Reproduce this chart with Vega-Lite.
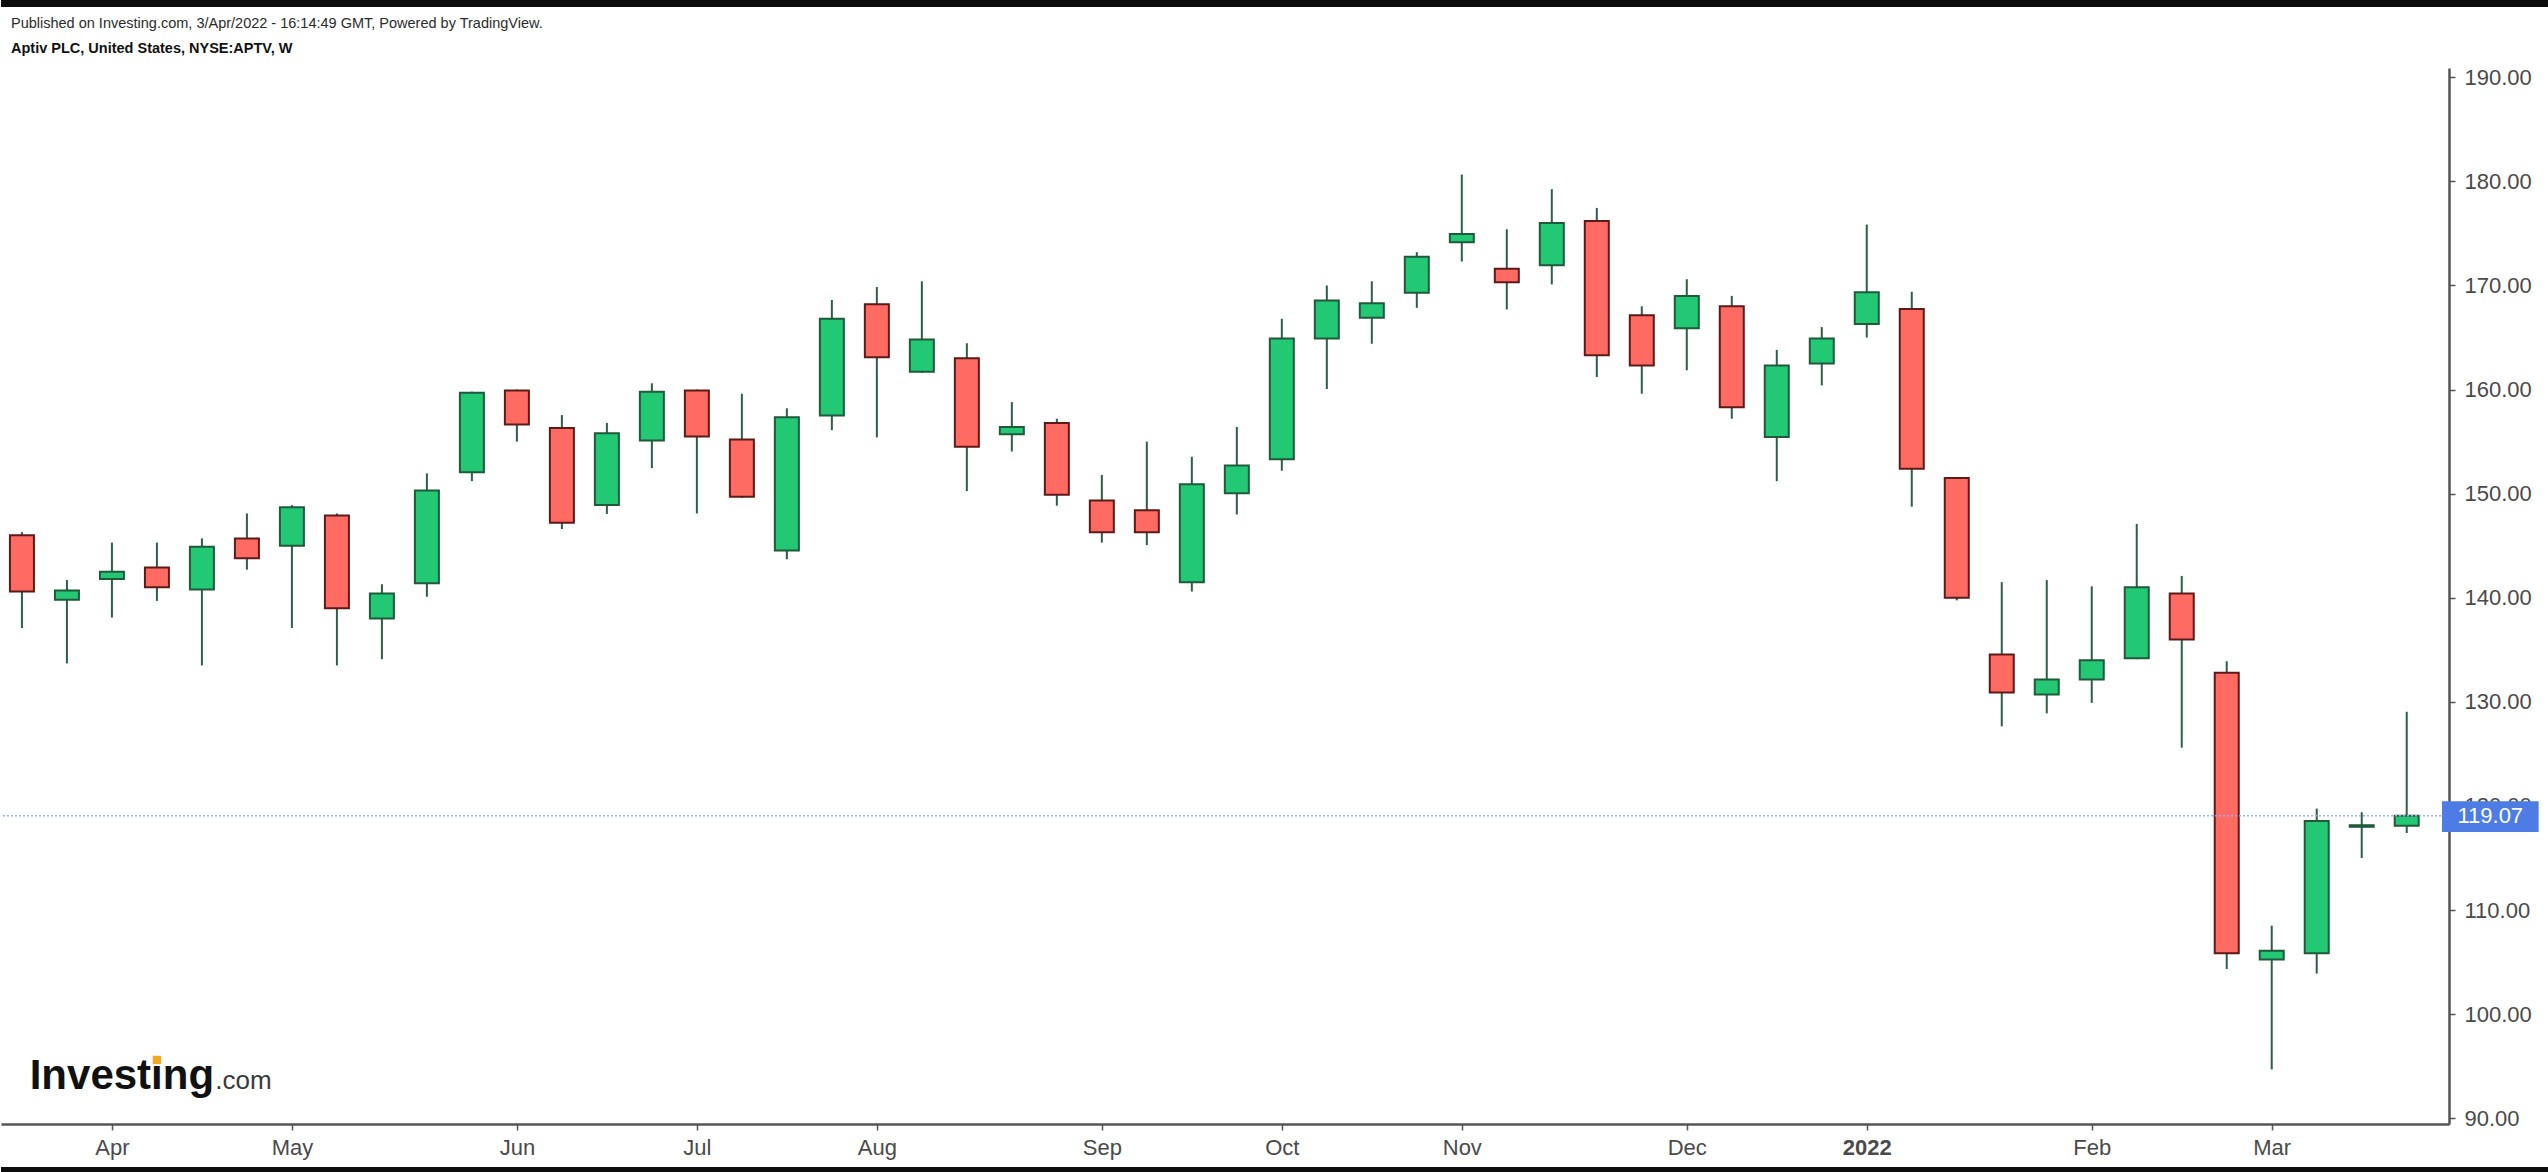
{
  "$schema": "https://vega.github.io/schema/vega-lite/v6.json",
  "background": "white",
  "padding": 0,
  "spacing": 9,
  "config": {"view": {"stroke": null}, "font": "Liberation Sans"},
  "vconcat": [
    {
      "width": 2548, "height": 7,
      "view": {"fill": "#0d0d0d", "stroke": null},
      "data": {"values": [{}]},
      "mark": {"type": "rect", "opacity": 0},
      "encoding": {}
    },
    {
      "width": 2448, "height": 1056,
      "title": {
        "text": "Published on Investing.com, 3/Apr/2022 - 16:14:49 GMT, Powered by TradingView.",
        "subtitle": "Aptiv PLC, United States, NYSE:APTV, W",
        "anchor": "start", "frame": "group", "dx": 10, "offset": 10,
        "font": "Liberation Sans", "fontSize": 14.5, "fontWeight": "normal", "color": "#2b2b2b",
        "subtitleFont": "Liberation Sans", "subtitleFontSize": 14.5, "subtitleFontWeight": "bold",
        "subtitleColor": "#111111", "subtitlePadding": 10
      },
      "data": {"values": [
        {"date": "2021-03-22", "open": 146.0, "high": 146.3, "low": 137.1, "close": 140.6},
        {"date": "2021-03-29", "open": 139.8, "high": 141.7, "low": 133.7, "close": 140.7},
        {"date": "2021-04-05", "open": 141.8, "high": 145.3, "low": 138.1, "close": 142.5},
        {"date": "2021-04-12", "open": 142.9, "high": 145.3, "low": 139.7, "close": 141.0},
        {"date": "2021-04-19", "open": 140.8, "high": 145.7, "low": 133.5, "close": 144.9},
        {"date": "2021-04-26", "open": 145.7, "high": 148.1, "low": 142.7, "close": 143.8},
        {"date": "2021-05-03", "open": 145.0, "high": 148.9, "low": 137.1, "close": 148.7},
        {"date": "2021-05-10", "open": 147.9, "high": 148.1, "low": 133.5, "close": 139.0},
        {"date": "2021-05-17", "open": 138.0, "high": 141.3, "low": 134.1, "close": 140.4},
        {"date": "2021-05-24", "open": 141.4, "high": 151.95, "low": 140.1, "close": 150.3},
        {"date": "2021-05-31", "open": 152.05, "high": 159.8, "low": 151.2, "close": 159.7},
        {"date": "2021-06-07", "open": 159.9, "high": 160.0, "low": 155.0, "close": 156.65},
        {"date": "2021-06-14", "open": 156.3, "high": 157.55, "low": 146.6, "close": 147.2},
        {"date": "2021-06-21", "open": 148.9, "high": 156.8, "low": 148.05, "close": 155.8},
        {"date": "2021-06-28", "open": 155.1, "high": 160.6, "low": 152.45, "close": 159.8},
        {"date": "2021-07-05", "open": 159.9, "high": 160.0, "low": 148.1, "close": 155.5},
        {"date": "2021-07-12", "open": 155.2, "high": 159.6, "low": 149.6, "close": 149.7},
        {"date": "2021-07-19", "open": 144.55, "high": 158.2, "low": 143.7, "close": 157.35},
        {"date": "2021-07-26", "open": 157.5, "high": 168.6, "low": 156.1, "close": 166.8},
        {"date": "2021-08-02", "open": 168.2, "high": 169.85, "low": 155.4, "close": 163.1},
        {"date": "2021-08-09", "open": 161.7, "high": 170.4, "low": 161.6, "close": 164.8},
        {"date": "2021-08-16", "open": 163.0, "high": 164.45, "low": 150.25, "close": 154.5},
        {"date": "2021-08-23", "open": 155.7, "high": 158.8, "low": 154.05, "close": 156.4},
        {"date": "2021-08-30", "open": 156.8, "high": 157.2, "low": 148.85, "close": 149.9},
        {"date": "2021-09-06", "open": 149.35, "high": 151.8, "low": 145.3, "close": 146.3},
        {"date": "2021-09-13", "open": 148.4, "high": 155.0, "low": 145.05, "close": 146.3},
        {"date": "2021-09-20", "open": 141.5, "high": 153.55, "low": 140.6, "close": 150.9},
        {"date": "2021-09-27", "open": 150.05, "high": 156.4, "low": 148.0, "close": 152.7},
        {"date": "2021-10-04", "open": 153.3, "high": 166.8, "low": 152.2, "close": 164.9},
        {"date": "2021-10-11", "open": 164.9, "high": 170.0, "low": 160.05, "close": 168.55},
        {"date": "2021-10-18", "open": 166.9, "high": 170.4, "low": 164.4, "close": 168.3},
        {"date": "2021-10-25", "open": 169.3, "high": 173.2, "low": 167.85, "close": 172.75},
        {"date": "2021-11-01", "open": 174.15, "high": 180.65, "low": 172.3, "close": 174.95},
        {"date": "2021-11-08", "open": 171.6, "high": 175.4, "low": 167.7, "close": 170.3},
        {"date": "2021-11-15", "open": 171.95, "high": 179.25, "low": 170.1, "close": 176.0},
        {"date": "2021-11-22", "open": 176.2, "high": 177.45, "low": 161.2, "close": 163.3},
        {"date": "2021-11-29", "open": 167.15, "high": 168.0, "low": 159.6, "close": 162.3},
        {"date": "2021-12-06", "open": 165.9, "high": 170.6, "low": 161.85, "close": 169.0},
        {"date": "2021-12-13", "open": 168.0, "high": 169.0, "low": 157.2, "close": 158.3},
        {"date": "2021-12-20", "open": 155.45, "high": 163.8, "low": 151.2, "close": 162.3},
        {"date": "2021-12-27", "open": 162.5, "high": 166.0, "low": 160.4, "close": 164.9},
        {"date": "2022-01-03", "open": 166.3, "high": 175.85, "low": 165.0, "close": 169.35},
        {"date": "2022-01-10", "open": 167.75, "high": 169.4, "low": 148.75, "close": 152.4},
        {"date": "2022-01-17", "open": 151.5, "high": 151.6, "low": 139.75, "close": 140.0},
        {"date": "2022-01-24", "open": 134.55, "high": 141.5, "low": 127.65, "close": 130.9},
        {"date": "2022-01-31", "open": 130.7, "high": 141.7, "low": 128.9, "close": 132.15},
        {"date": "2022-02-07", "open": 132.15, "high": 141.1, "low": 129.9, "close": 134.0},
        {"date": "2022-02-14", "open": 134.2, "high": 147.1, "low": 134.1, "close": 141.0},
        {"date": "2022-02-21", "open": 140.4, "high": 142.1, "low": 125.6, "close": 136.0},
        {"date": "2022-02-28", "open": 132.8, "high": 133.9, "low": 104.35, "close": 105.85},
        {"date": "2022-03-07", "open": 105.25, "high": 108.5, "low": 94.7, "close": 106.1},
        {"date": "2022-03-14", "open": 105.85, "high": 119.75, "low": 103.9, "close": 118.55},
        {"date": "2022-03-21", "open": 118.0, "high": 119.4, "low": 115.0, "close": 118.15},
        {"date": "2022-03-28", "open": 118.1, "high": 129.05, "low": 117.4, "close": 119.07}
      ]},
      "layer": [
        {
          "mark": {"type": "rule", "stroke": "#2d5f47", "strokeWidth": 2},
          "encoding": {
            "x": {
              "field": "date", "type": "temporal", "title": null,
              "scale": {"type": "utc", "domain": [
                {"year": 2021, "month": 3, "date": 19, "hours": 12, "minutes": 30, "utc": true},
                {"year": 2022, "month": 4, "date": 2, "hours": 19, "minutes": 12, "utc": true}
              ]},
              "axis": {
                "orient": "bottom", "grid": false,
                "values": [
                  {"year": 2021, "month": 4, "date": 5, "utc": true},
                  {"year": 2021, "month": 5, "date": 3, "utc": true},
                  {"year": 2021, "month": 6, "date": 7, "utc": true},
                  {"year": 2021, "month": 7, "date": 5, "utc": true},
                  {"year": 2021, "month": 8, "date": 2, "utc": true},
                  {"year": 2021, "month": 9, "date": 6, "utc": true},
                  {"year": 2021, "month": 10, "date": 4, "utc": true},
                  {"year": 2021, "month": 11, "date": 1, "utc": true},
                  {"year": 2021, "month": 12, "date": 6, "utc": true},
                  {"year": 2022, "month": 1, "date": 3, "utc": true},
                  {"year": 2022, "month": 2, "date": 7, "utc": true},
                  {"year": 2022, "month": 3, "date": 7, "utc": true}
                ],
                "labelExpr": "utcmonth(datum.value) == 0 ? utcFormat(datum.value, '%Y') : utcFormat(datum.value, '%b')",
                "labelFontWeight": {"condition": {"test": "utcmonth(datum.value) == 0", "value": "bold"}, "value": "normal"},
                "labelFont": "Liberation Sans", "labelFontSize": 22, "labelColor": "#4a4a4a",
                "labelPadding": 7, "tickSize": 6, "tickColor": "#555555", "tickWidth": 1.5,
                "domainColor": "#555555", "domainWidth": 2.5, "labelFlush": false, "labelOverlap": false
              }
            },
            "y": {
              "field": "low", "type": "quantitative", "title": null,
              "scale": {"domain": [89.45, 190.89], "nice": false, "zero": false},
              "axis": {
                "orient": "right", "grid": false,
                "values": [90, 100, 110, 120, 130, 140, 150, 160, 170, 180, 190],
                "format": ".2f",
                "labelFont": "Liberation Sans", "labelFontSize": 22, "labelColor": "#4a4a4a",
                "labelPadding": 9, "tickSize": 6, "tickColor": "#555555", "tickWidth": 1.5,
                "domainColor": "#555555", "domainWidth": 2.5, "labelFlush": false, "labelOverlap": false
              }
            },
            "y2": {"field": "high"}
          }
        },
        {
          "mark": {"type": "bar", "width": 24, "strokeWidth": 2},
          "encoding": {
            "x": {"field": "date", "type": "temporal"},
            "y": {"field": "open", "type": "quantitative"},
            "y2": {"field": "close"},
            "fill": {"condition": {"test": "datum.close >= datum.open", "value": "#22c874"}, "value": "#ff6b62"},
            "stroke": {"condition": {"test": "datum.close >= datum.open", "value": "#1f5a3b"}, "value": "#5e1a18"}
          }
        },
        {
          "data": {"values": [{}]},
          "mark": {"type": "rule", "stroke": "#9aaef0", "strokeWidth": 1.5, "strokeDash": [2, 2]},
          "encoding": {"y": {"datum": 119.07, "type": "quantitative"}}
        },
        {
          "data": {"values": [{}]},
          "mark": {"type": "rect", "fill": "#4c7ce4", "opacity": 1},
          "encoding": {
            "x": {"datum": {"year": 2022, "month": 4, "date": 2, "hours": 11, "minutes": 40, "utc": true}, "type": "temporal"},
            "x2": {"datum": {"year": 2022, "month": 4, "date": 17, "hours": 12, "minutes": 30, "utc": true}},
            "y": {"datum": 117.5, "type": "quantitative"},
            "y2": {"datum": 120.45}
          }
        },
        {
          "data": {"values": [{}]},
          "mark": {"type": "text", "text": "119.07", "font": "Liberation Sans", "fontSize": 22, "fill": "white", "align": "center", "baseline": "middle"},
          "encoding": {
            "x": {"datum": {"year": 2022, "month": 4, "date": 10, "hours": 0, "utc": true}, "type": "temporal"},
            "y": {"datum": 119.0, "type": "quantitative"}
          }
        },
        {
          "data": {"values": [{}]},
          "mark": {"type": "text", "text": "Investing", "font": "Liberation Sans", "fontSize": 42, "fontWeight": "bold", "fill": "#111111", "align": "left", "baseline": "alphabetic"},
          "encoding": {
            "x": {"datum": {"year": 2021, "month": 3, "date": 23, "hours": 5, "utc": true}, "type": "temporal"},
            "y": {"datum": 92.84, "type": "quantitative"}
          }
        },
        {
          "data": {"values": [{}]},
          "mark": {"type": "text", "text": ".com", "font": "Liberation Sans", "fontSize": 26, "fontWeight": "normal", "fill": "#3a3a3a", "align": "left", "baseline": "alphabetic"},
          "encoding": {
            "x": {"datum": {"year": 2021, "month": 4, "date": 21, "hours": 2, "utc": true}, "type": "temporal"},
            "y": {"datum": 92.84, "type": "quantitative"}
          }
        },
        {
          "data": {"values": [{}]},
          "mark": {"type": "point", "shape": "square", "size": 70, "filled": true, "fill": "#f5a623", "opacity": 1, "strokeWidth": 0},
          "encoding": {
            "x": {"datum": {"year": 2021, "month": 4, "date": 12, "hours": 0, "utc": true}, "type": "temporal"},
            "y": {"datum": 95.6, "type": "quantitative"}
          }
        }
      ]
    },
    {
      "width": 2548, "height": 8,
      "view": {"fill": "#0d0d0d", "stroke": null},
      "data": {"values": [{}]},
      "mark": {"type": "rect", "opacity": 0},
      "encoding": {}
    }
  ]
}
